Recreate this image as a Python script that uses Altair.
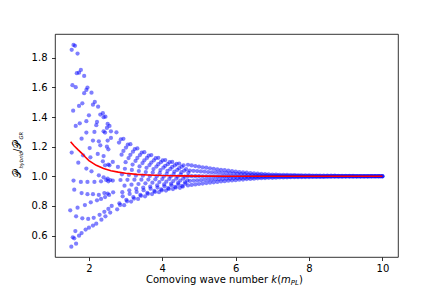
import altair as alt
import pandas as pd

# ---- scattered points (k < 2.7) ----
left_k = [1.58, 1.62, 1.53, 1.69, 1.78, 1.73, 1.67, 1.87, 1.55, 1.64, 1.96, 1.93, 1.87, 2.07, 2.16, 2.11,
          2.25, 1.82, 1.73, 1.57, 2.38, 2.31, 2.00,
          2.40, 2.45, 1.75, 1.64, 1.93, 2.22, 2.20, 2.51, 2.56, 2.49, 2.40, 2.44, 2.60, 1.93, 2.15, 1.80,
          2.11, 2.27, 2.31, 2.51, 2.60, 2.49, 2.53, 2.02, 1.53, 1.84, 2.04, 2.40, 2.24, 2.38, 2.53, 2.44,
          2.56, 2.65, 1.71, 1.93, 2.07, 2.27, 2.40, 2.51, 2.58, 1.58, 1.78, 1.96, 2.15, 2.33, 2.47, 2.53, 2.65,
          1.60, 1.80, 1.96, 2.11, 2.27, 2.42, 2.51, 2.66,
          1.49, 1.69, 1.89, 2.05, 2.22, 2.33, 2.44, 2.55,
          1.65, 1.82, 1.98, 2.13, 2.29, 2.42, 2.53, 2.62,
          1.73, 1.80, 1.91, 2.00, 2.11, 2.20, 2.34, 2.45, 2.58,
          1.52, 1.56, 1.60, 1.65, 1.63]
left_y = [1.887, 1.881, 1.854, 1.829, 1.718, 1.700, 1.696, 1.678, 1.615, 1.602, 1.599, 1.583, 1.561, 1.565,
          1.502, 1.484, 1.470, 1.493, 1.475, 1.443, 1.426, 1.417, 1.412,
          1.399, 1.403, 1.358, 1.340, 1.372, 1.367, 1.345, 1.354, 1.340, 1.327, 1.304, 1.295, 1.304, 1.295,
          1.300, 1.254, 1.241, 1.236, 1.209, 1.241, 1.259, 1.200, 1.182, 1.191, 1.160, 1.142, 1.128, 1.137,
          1.151, 1.101, 1.079, 1.074, 1.074, 1.097, 1.092, 1.052, 1.034, 1.007, 0.993, 0.984, 0.975, 0.971,
          0.962, 0.962, 0.962, 0.966, 0.975, 0.966, 0.971,
          0.910, 0.887, 0.879, 0.879, 0.874, 0.887, 0.883, 0.892,
          0.770, 0.788, 0.806, 0.824, 0.838, 0.847, 0.860, 0.874,
          0.730, 0.716, 0.712, 0.720, 0.740, 0.760, 0.780, 0.800,
          0.599, 0.617, 0.640, 0.653, 0.667, 0.680, 0.707, 0.730, 0.755,
          0.525, 0.588, 0.581, 0.545, 0.630]

# ---- rows of dots in the converging part (2.7 < k < 4.7) ----
ek1 = [2.75, 2.94, 3.13, 3.32, 3.51, 3.70, 3.89, 4.08, 4.27, 4.46]
ek2 = [2.82, 3.01, 3.20, 3.39, 3.58, 3.77, 3.96, 4.15, 4.34, 4.53]
ek3 = [2.89, 3.08, 3.27, 3.46, 3.65, 3.84, 4.03, 4.22, 4.41, 4.60]
ek4 = [2.79, 2.98, 3.17, 3.36, 3.55, 3.74, 3.93, 4.12, 4.31, 4.50]
ek5 = [2.86, 3.05, 3.24, 3.43, 3.62, 3.81, 4.00, 4.19, 4.38, 4.57]
ek6 = [2.91, 3.10, 3.29, 3.48, 3.67, 3.86, 4.05, 4.24, 4.43, 4.62]
ek7 = [2.83, 3.02, 3.21, 3.40, 3.59, 3.78, 3.97, 4.16, 4.35, 4.54]
ek8 = [2.77, 2.96, 3.15, 3.34, 3.53, 3.72, 3.91, 4.10, 4.29, 4.48]
ey1 = [1.297, 1.253, 1.217, 1.188, 1.163, 1.143, 1.125, 1.110, 1.097, 1.086]
ey2 = [1.228, 1.194, 1.166, 1.143, 1.124, 1.108, 1.095, 1.082, 1.073, 1.065]
ey3 = [1.146, 1.123, 1.104, 1.089, 1.076, 1.066, 1.058, 1.050, 1.044, 1.039]
ey4 = [1.063, 1.051, 1.043, 1.035, 1.029, 1.025, 1.021, 1.017, 1.015, 1.012]
ey5 = [0.975, 0.976, 0.977, 0.977, 0.978, 0.980, 0.981, 0.982, 0.984, 0.985]
ey6 = [0.893, 0.905, 0.916, 0.923, 0.931, 0.939, 0.945, 0.950, 0.955, 0.959]
ey7 = [0.818, 0.841, 0.860, 0.874, 0.888, 0.901, 0.911, 0.920, 0.928, 0.935]
ey8 = [0.777, 0.805, 0.829, 0.847, 0.865, 0.880, 0.893, 0.904, 0.914, 0.922]

ok1 = [2.87, 3.06, 3.25, 3.44, 3.63, 3.82, 4.01, 4.20, 4.39, 4.58]
ok2 = [2.94, 3.13, 3.32, 3.51, 3.70, 3.89, 4.08, 4.27, 4.46, 4.65]
ok3 = [3.00, 3.19, 3.38, 3.57, 3.76, 3.95, 4.14, 4.33, 4.52, 4.71]
ok4 = [2.90, 3.09, 3.28, 3.47, 3.66, 3.85, 4.04, 4.23, 4.42, 4.61]
ok5 = [2.97, 3.16, 3.35, 3.54, 3.73, 3.92, 4.11, 4.30, 4.49, 4.68]
ok6 = [2.92, 3.11, 3.30, 3.49, 3.68, 3.87, 4.06, 4.25, 4.44, 4.63]
ok7 = [2.85, 3.04, 3.23, 3.42, 3.61, 3.80, 3.99, 4.18, 4.37, 4.56]
oy1 = [1.250, 1.214, 1.184, 1.160, 1.139, 1.122, 1.107, 1.095, 1.084, 1.074]
oy2 = [1.171, 1.145, 1.124, 1.108, 1.093, 1.082, 1.071, 1.063, 1.055, 1.049]
oy3 = [1.095, 1.079, 1.067, 1.057, 1.049, 1.042, 1.036, 1.032, 1.028, 1.024]
oy4 = [1.013, 1.009, 1.005, 1.004, 1.002, 1.000, 0.999, 0.999, 0.998, 0.998]
oy5 = [0.937, 0.943, 0.948, 0.953, 0.957, 0.961, 0.964, 0.968, 0.971, 0.973]
oy6 = [0.865, 0.881, 0.894, 0.906, 0.916, 0.924, 0.932, 0.939, 0.945, 0.950]
oy7 = [0.807, 0.831, 0.850, 0.868, 0.882, 0.894, 0.905, 0.915, 0.924, 0.931]

# ---- dense band (k >= 4.7) ----
band_k = [4.7, 4.8, 4.9, 5.0, 5.1, 5.2, 5.3, 5.4, 5.5, 5.6, 5.7, 5.8, 5.9, 6.0, 6.1, 6.2, 6.3, 6.4,
          6.5, 6.6, 6.7, 6.8, 6.9, 7.0, 7.1, 7.2, 7.3, 7.4, 7.5, 7.6, 7.7, 7.8, 7.9, 8.0, 8.1, 8.2,
          8.3, 8.4, 8.5, 8.6, 8.7, 8.8, 8.9, 9.0, 9.1, 9.2, 9.3, 9.4, 9.5, 9.6, 9.7, 9.8, 9.9, 10.0]
band_k_half = [4.75, 4.85, 4.95, 5.05, 5.15, 5.25, 5.35, 5.45, 5.55, 5.65, 5.75, 5.85, 5.95, 6.05,
               6.15, 6.25, 6.35, 6.45, 6.55, 6.65, 6.75, 6.85, 6.95, 7.05, 7.15, 7.25, 7.35, 7.45,
               7.55, 7.65, 7.75, 7.85, 7.95, 8.05, 8.15, 8.25, 8.35, 8.45, 8.55, 8.65, 8.75, 8.85,
               8.95, 9.05, 9.15, 9.25, 9.35, 9.45, 9.55, 9.65, 9.75, 9.85, 9.95]
band_r1 = [1.078, 1.073, 1.069, 1.065, 1.061, 1.058, 1.054, 1.051, 1.047, 1.044, 1.041, 1.038, 1.035,
           1.032, 1.029, 1.027, 1.024, 1.022, 1.020, 1.018, 1.016, 1.015, 1.013, 1.012, 1.011, 1.010,
           1.009, 1.009, 1.008, 1.008, 1.007, 1.007, 1.006, 1.006, 1.005, 1.005, 1.005, 1.004, 1.004,
           1.004, 1.004, 1.003, 1.003, 1.003, 1.003, 1.003, 1.002, 1.002, 1.002, 1.002, 1.002, 1.002,
           1.002, 1.002]
band_r2 = [1.039, 1.037, 1.035, 1.033, 1.031, 1.029, 1.027, 1.026, 1.024, 1.022, 1.021, 1.019, 1.018,
           1.016, 1.015, 1.014, 1.012, 1.011, 1.010, 1.009, 1.008, 1.008, 1.007, 1.006, 1.006, 1.005,
           1.005, 1.004, 1.004, 1.004, 1.004, 1.003, 1.003, 1.003, 1.003, 1.003, 1.002, 1.002, 1.002,
           1.002, 1.002, 1.002, 1.002, 1.002, 1.001, 1.001, 1.001, 1.001, 1.001, 1.001, 1.001, 1.001,
           1.001]
band_r3 = [1.001, 1.001, 1.001, 1.001, 1.0, 1.0, 1.0, 1.0, 1.0, 1.0, 1.0, 1.0, 1.0, 1.0, 1.0, 1.0, 1.0,
           1.0, 1.0, 1.0, 1.0, 1.0, 1.0, 1.0, 1.0, 1.0, 1.0, 1.0, 1.0, 1.0, 1.0, 1.0, 1.0, 1.0, 1.0, 1.0,
           1.0, 1.0, 1.0, 1.0, 1.0, 1.0, 1.0, 1.0, 1.0, 1.0, 1.0, 1.0, 1.0, 1.0, 1.0, 1.0, 1.0, 1.0]
band_r4 = [0.969, 0.971, 0.972, 0.974, 0.976, 0.977, 0.978, 0.980, 0.981, 0.982, 0.984, 0.985, 0.986,
           0.987, 0.988, 0.989, 0.990, 0.991, 0.992, 0.993, 0.994, 0.994, 0.995, 0.995, 0.996, 0.996,
           0.996, 0.996, 0.997, 0.997, 0.997, 0.997, 0.998, 0.998, 0.998, 0.998, 0.998, 0.998, 0.998,
           0.999, 0.999, 0.999, 0.999, 0.999, 0.999, 0.999, 0.999, 0.999, 0.999, 0.999, 0.999, 0.999,
           0.999]
band_r5 = [0.938, 0.942, 0.945, 0.948, 0.951, 0.954, 0.957, 0.959, 0.962, 0.965, 0.967, 0.970, 0.972,
           0.974, 0.977, 0.978, 0.981, 0.982, 0.984, 0.986, 0.987, 0.988, 0.990, 0.990, 0.991, 0.992,
           0.992, 0.993, 0.994, 0.994, 0.994, 0.995, 0.995, 0.995, 0.996, 0.996, 0.996, 0.996, 0.997,
           0.997, 0.997, 0.997, 0.997, 0.998, 0.998, 0.998, 0.998, 0.998, 0.998, 0.998, 0.999, 0.999,
           0.999, 0.999]

# ---- red curve ----
red_k = [1.5, 1.6, 1.7, 1.8, 1.9, 2.0, 2.2, 2.4, 2.6, 2.8, 3.0, 3.3, 3.6, 4.0, 4.5, 5.0, 6.0, 7.0, 8.0, 9.0, 10.0]
red_y = [1.234, 1.205, 1.180, 1.157, 1.130, 1.106, 1.074, 1.052, 1.038, 1.028, 1.021, 1.013, 1.009, 1.005,
         1.003, 1.001, 1.0, 1.0, 1.0, 1.0, 1.0]

x_ticks = [2, 4, 6, 8, 10]
y_ticks = [0.6, 0.8, 1.0, 1.2, 1.4, 1.6, 1.8]

pairs = [(left_k, left_y),
         (ek1, ey1), (ek2, ey2), (ek3, ey3), (ek4, ey4), (ek5, ey5), (ek6, ey6), (ek7, ey7), (ek8, ey8),
         (ok1, oy1), (ok2, oy2), (ok3, oy3), (ok4, oy4), (ok5, oy5), (ok6, oy6), (ok7, oy7),
         (band_k, band_r1), (band_k_half, band_r2), (band_k, band_r3), (band_k_half, band_r4),
         (band_k, band_r5)]
points = pd.concat([pd.DataFrame({"k": a, "y": b}) for a, b in pairs], ignore_index=True)
red = pd.DataFrame({"k": red_k, "y": red_y})

xs = alt.Scale(domain=[1.075, 10.425], nice=False, zero=False)
ys = alt.Scale(domain=[0.455, 1.961], nice=False, zero=False)

pts = alt.Chart(points).mark_circle(size=18, color="blue", opacity=0.5).encode(
    x=alt.X("k:Q", scale=xs, axis=alt.Axis(values=x_ticks, tickCount=10, format="d", title=None,
                                           labelOverlap=False, labelPadding=2.5)),
    y=alt.Y("y:Q", scale=ys, axis=alt.Axis(values=y_ticks, tickCount=10, format=".1f", title=None,
                                           labelOverlap=False, labelPadding=4.5)),
)
line = alt.Chart(red).mark_line(color="red", strokeWidth=1.6).encode(
    x=alt.X("k:Q", scale=xs), y=alt.Y("y:Q", scale=ys)
)


def piece(text, x, y, size, style="normal", angle=0):
    return alt.Chart(pd.DataFrame({"t": [text]})).mark_text(
        text=text, align="left", baseline="alphabetic", font="DejaVu Sans",
        fontSize=size, fontStyle=style, angle=angle, color="black"
    ).encode(x=alt.value(x), y=alt.value(y))


titles = [
    piece("Comoving wave number", 91, 249, 10),
    piece("k", 216.3, 249, 10, "italic"),
    piece("(", 222.3, 249, 10),
    piece("m", 226.0, 249, 10, "italic"),
    piece("PL", 235.8, 251.3, 7, "italic"),
    piece(")", 244.0, 249, 10),
    piece("\U0001D4AB", -33.7, 144, 11, "normal", 270),
    piece("hybrid", -32.3, 134.5, 5.2, "italic", 270),
    piece("/", -33.7, 118.0, 10, "normal", 270),
    piece("\U0001D4AB", -33.7, 114.5, 11, "normal", 270),
    piece("GR", -32.3, 105.5, 5.2, "italic", 270),
]

chart = alt.layer(pts, line, *titles).properties(
    width=343, height=223,
    autosize=alt.AutoSizeParams(type="none"),
    padding={"left": 47, "top": 26, "right": 20, "bottom": 29},
).configure_view(stroke="black", strokeWidth=0.8).configure_axis(
    domain=False, grid=False, tickColor="black", tickSize=3.5, tickWidth=0.8,
    labelFont="DejaVu Sans", labelFontSize=10, labelColor="black",
)

chart.save("out.html", embed_options={"renderer": "svg", "actions": False})
